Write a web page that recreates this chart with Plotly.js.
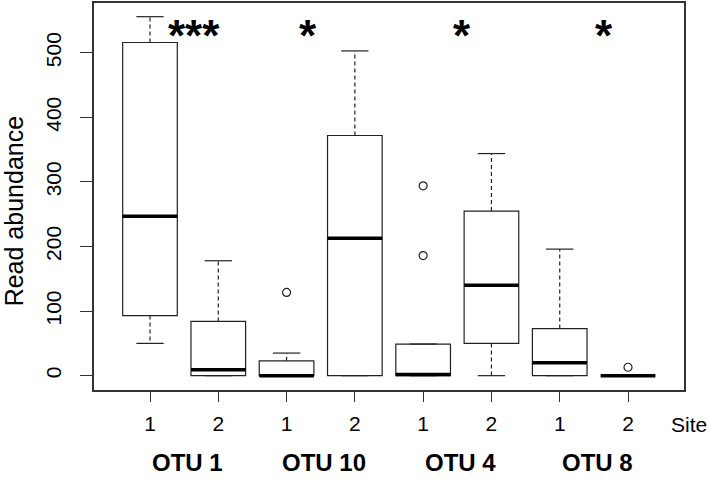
<!DOCTYPE html>
<html>
<head>
<meta charset="utf-8">
<script src="https://cdn.plot.ly/plotly-3.0.1.min.js"></script>
<style>
  body { margin: 0; background: #fff; }
  #chart { width: 709px; height: 480px; }
</style>
</head>
<body>
<div id="chart"></div>
<script>
// one box per OTU x site
var otuNames = ["OTU 1", "OTU 10", "OTU 4", "OTU 8"];
var siteLabels = ["1", "2", "1", "2", "1", "2", "1", "2"];
var lowerWhisker = [50, 0, 0, 0, 0, 0, 0, 0];
var q1 = [93, 0, 0, 0, 0, 50, 0, 0];
var median = [247, 9, 0, 213, 2, 140, 20, 0];
var q3 = [516, 84, 23, 372, 49, 255, 73, 0];
var upperWhisker = [556, 178, 35, 503, 49, 344, 196, 0];

// outliers: which box (1-based) and value
var outlierBox = [3, 5, 5, 8];
var outlierValue = [129, 294, 186, 13];

// significance stars, one per OTU
var sigLabels = ["***", "*", "*", "*"];
var sigOffset = [0.65, 0.31, 0.57, 0.65];

var boxPos = siteLabels.map(function (s, i) { return i + 1; });
var halfBox = 0.4, halfCap = 0.2;
var ink = "#222";

// box bodies only (whiskers drawn separately so they can be dashed)
var boxes = {
    type: "box",
    x: boxPos,
    q1: q1,
    median: median,
    q3: q3,
    lowerfence: q1,
    upperfence: q3,
    width: 2 * halfBox,
    whiskerwidth: 0,
    fillcolor: "white",
    line: {color: ink, width: 1.2},
    hoverinfo: "skip",
    showlegend: false
};

var wx = [], wy = [], cx = [], cy = [], mx = [], my = [];
boxPos.forEach(function (p, i) {
    wx.push(p, p, null, p, p, null);
    wy.push(q3[i], upperWhisker[i], null, q1[i], lowerWhisker[i], null);
    cx.push(p - halfCap, p + halfCap, null, p - halfCap, p + halfCap, null);
    cy.push(upperWhisker[i], upperWhisker[i], null, lowerWhisker[i], lowerWhisker[i], null);
    mx.push(p - halfBox, p + halfBox, null);
    my.push(median[i], median[i], null);
});

var whiskers = {
    type: "scatter", mode: "lines", x: wx, y: wy,
    line: {color: ink, width: 1.2, dash: "4px,3px"},
    hoverinfo: "skip", showlegend: false
};
var caps = {
    type: "scatter", mode: "lines", x: cx, y: cy,
    line: {color: ink, width: 1.2},
    hoverinfo: "skip", showlegend: false
};
var medians = {
    type: "scatter", mode: "lines", x: mx, y: my,
    line: {color: "black", width: 3.5},
    hoverinfo: "skip", showlegend: false
};
var outliers = {
    type: "scatter", mode: "markers", x: outlierBox, y: outlierValue,
    marker: {symbol: "circle-open", size: 8, color: ink, line: {width: 1.2, color: ink}},
    hoverinfo: "skip", showlegend: false
};

var font = "Liberation Sans, Arial, Helvetica, sans-serif";
var tickFont = {family: font, size: 21, color: "black"};
var annotations = [];

otuNames.forEach(function (name, k) {
    annotations.push({
        text: "<b>" + name + "</b>", x: 2 * k + 1.55, xref: "x",
        y: -0.187, yref: "paper", xanchor: "center", yanchor: "middle",
        showarrow: false, font: {family: font, size: 24, color: "black"}
    });
    annotations.push({
        text: "<b>" + sigLabels[k] + "</b>", x: 2 * k + 1 + sigOffset[k], xref: "x",
        y: 0.915, yref: "paper", xanchor: "center", yanchor: "middle",
        showarrow: false, font: {family: font, size: 44, color: "black"}
    });
});

annotations.push({
    text: "Site", x: 0.975, xref: "paper", y: -0.088, yref: "paper",
    xanchor: "left", yanchor: "middle", showarrow: false,
    font: tickFont
});
annotations.push({
    text: "Read abundance", x: -0.136, xref: "paper", y: 0.461, yref: "paper",
    xanchor: "center", yanchor: "middle", textangle: -90, showarrow: false,
    font: {family: font, size: 25, color: "black"}
});

var layout = {
    width: 709,
    height: 480,
    margin: {l: 94, r: 25, t: 3, b: 90},
    paper_bgcolor: "white",
    plot_bgcolor: "white",
    font: {family: font, size: 21, color: "black"},
    xaxis: {
        range: [0.18, 8.82],
        tickvals: boxPos,
        ticktext: siteLabels,
        tickfont: tickFont,
        ticks: "outside", ticklen: 10, tickcolor: "#333", tickwidth: 1.2,
        ticklabelstandoff: 4,
        showline: true, mirror: true, linecolor: "#333", linewidth: 1.5,
        showgrid: false, zeroline: false
    },
    yaxis: {
        range: [-22.2, 577.2],
        tickvals: [0, 100, 200, 300, 400, 500],
        tickfont: tickFont,
        ticks: "outside", ticklen: 12, tickcolor: "#333", tickwidth: 1.2,
        tickangle: -90,
        ticklabelstandoff: 11,
        showline: true, mirror: true, linecolor: "#333", linewidth: 1.5,
        showgrid: false, zeroline: false
    },
    annotations: annotations
};

Plotly.newPlot("chart", [boxes, whiskers, caps, medians, outliers], layout, {displayModeBar: false});
</script>
</body>
</html>
